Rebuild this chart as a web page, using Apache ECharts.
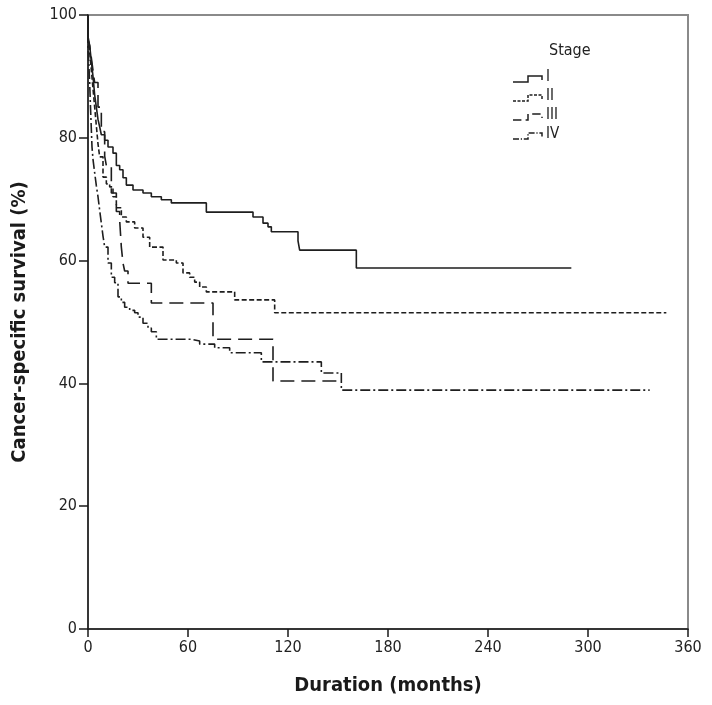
<!DOCTYPE html>
<html>
<head>
<meta charset="utf-8">
<script src="https://cdn.jsdelivr.net/npm/echarts@6/dist/echarts.min.js"></script>
<style>
html,body{margin:0;padding:0;background:#fff;}
#chart{width:712px;height:705px;}
</style>
</head>
<body>
<div id="chart"></div>
<script>
// ---- data (months, cancer-specific survival %) ----
var stageNames = ['I', 'II', 'III', 'IV'];
var xTicks = [0, 60, 120, 180, 240, 300, 360];
var yTicks = [0, 20, 40, 60, 80, 100];

var stage1Months = [0, 0, 1, 2, 3, 4, 5, 6, 7, 8, 10, 12, 15, 17, 19, 21, 23, 27, 33, 38, 44, 50, 71, 99, 105, 108, 110, 126, 127, 161, 290];
var stage1Surv   = [100, 96.5, 95, 92.5, 90, 87, 85, 83, 81.8, 80.5, 79.6, 78.5, 77.5, 75.5, 74.8, 73.5, 72.3, 71.5, 71.0, 70.4, 69.9, 69.4, 67.9, 67.1, 66.1, 65.5, 64.7, 63.2, 61.7, 58.8, 58.8];

var stage2Months = [0, 0, 1, 2, 3, 4, 5, 6, 7, 9, 11, 13, 15, 17, 20, 23, 28, 33, 37, 45, 53, 57, 61, 64, 67, 71, 88, 112, 347];
var stage2Surv   = [100, 96, 94, 91, 88, 85, 82, 79, 76.9, 73.6, 72.5, 72, 70.4, 68.6, 67.1, 66.3, 65.3, 63.8, 62.2, 60.1, 59.6, 58, 57.3, 56.5, 55.7, 54.9, 53.6, 51.5, 51.5];

var stage3Months = [0, 0, 1, 2, 3, 4, 6, 8, 10, 11, 14, 17, 19, 20, 21, 22, 24, 38, 75, 111, 153];
var stage3Surv   = [100, 96, 95, 93, 91, 89, 85, 81, 77, 75.5, 71, 68, 66.6, 62.2, 59.6, 58.3, 56.3, 53.1, 47.2, 40.4, 40.4];

var stage4Months = [0, 0, 0.5, 1, 1.5, 2.4, 3, 4, 5, 6, 7, 8, 9, 10, 12, 14, 16, 18, 20, 22, 25, 28, 30, 33, 36, 38, 41, 62, 67, 76, 85, 104, 140, 152, 337];
var stage4Surv   = [100, 95, 92, 89, 85, 78.5, 76.5, 74.3, 72.2, 70.4, 68.2, 66.1, 64, 62.2, 59.6, 57.3, 56.4, 54.1, 53.2, 52.4, 51.9, 51.5, 50.8, 49.8, 49, 48.4, 47.2, 46.9, 46.4, 45.8, 45, 43.5, 41.7, 38.9, 38.9];

// ---- build ----
function pairs(xs, ys) { return xs.map(function (x, i) { return [x, ys[i]]; }); }
var allMonths = [stage1Months, stage2Months, stage3Months, stage4Months];
var allSurv = [stage1Surv, stage2Surv, stage3Surv, stage4Surv];
var dashes = ['solid', [5, 2.5], [14, 7], [10, 3, 2, 3]];
var lineColor = '#1e1e1e';
var font = "'DejaVu Sans Condensed', 'DejaVu Sans', sans-serif";

var series = stageNames.map(function (n, i) {
  return {
    name: n, type: 'line', step: 'end', symbol: 'none',
    data: pairs(allMonths[i], allSurv[i]),
    lineStyle: { color: lineColor, width: 1.6, type: dashes[i] },
    animation: false
  };
});

// legend drawn as graphic (KM-style step icons)
var legendY = [79, 98, 117, 136];
var graphics = [{
  type: 'text', left: 549, top: 43,
  style: { text: 'Stage', font: '16px ' + font, fill: '#222' }
}];
stageNames.forEach(function (n, i) {
  var y = legendY[i];
  graphics.push({
    type: 'polyline',
    shape: { points: [[513, y + 3], [528, y + 3], [528, y - 3], [542, y - 3], [542, y + 1]] },
    style: { stroke: lineColor, lineWidth: 1.5, fill: null, lineDash: dashes[i] === 'solid' ? null : dashes[i].map(function(v){return v*0.6;}) }
  });
  graphics.push({
    type: 'text', left: 546, top: y - 9,
    style: { text: n, font: '15px ' + font, fill: '#222' }
  });
});

var chart = echarts.init(document.getElementById('chart'), null, { renderer: 'canvas' });
chart.setOption({
  backgroundColor: '#fff',
  animation: false,
  grid: { left: 88, right: 24, top: 15, bottom: 76, show: true, borderColor: '#8a8a8a', borderWidth: 2, backgroundColor: '#fff' },
  xAxis: {
    type: 'value', min: xTicks[0], max: xTicks[xTicks.length - 1], interval: 60,
    name: 'Duration (months)', nameLocation: 'middle', nameGap: 47,
    nameTextStyle: { fontFamily: font, fontSize: 20, fontWeight: 'bold', color: '#1a1a1a' },
    axisLine: { lineStyle: { color: '#1a1a1a', width: 1.5 } },
    axisTick: { length: 8, lineStyle: { color: '#1a1a1a', width: 1.5 } },
    axisLabel: { fontFamily: font, fontSize: 16, color: '#222', margin: 11 },
    splitLine: { show: false }
  },
  yAxis: {
    type: 'value', min: yTicks[0], max: yTicks[yTicks.length - 1], interval: 20,
    name: 'Cancer-specific survival (%)', nameLocation: 'middle', nameGap: 58,
    nameTextStyle: { fontFamily: font, fontSize: 20, fontWeight: 'bold', color: '#1a1a1a' },
    axisLine: { show: true, lineStyle: { color: '#1a1a1a', width: 1.5 } },
    axisTick: { show: true, length: 9, lineStyle: { color: '#1a1a1a', width: 1.5 } },
    axisLabel: { fontFamily: font, fontSize: 16, color: '#222', margin: 11 },
    splitLine: { show: false }
  },
  graphic: graphics,
  series: series
});
</script>
</body>
</html>
